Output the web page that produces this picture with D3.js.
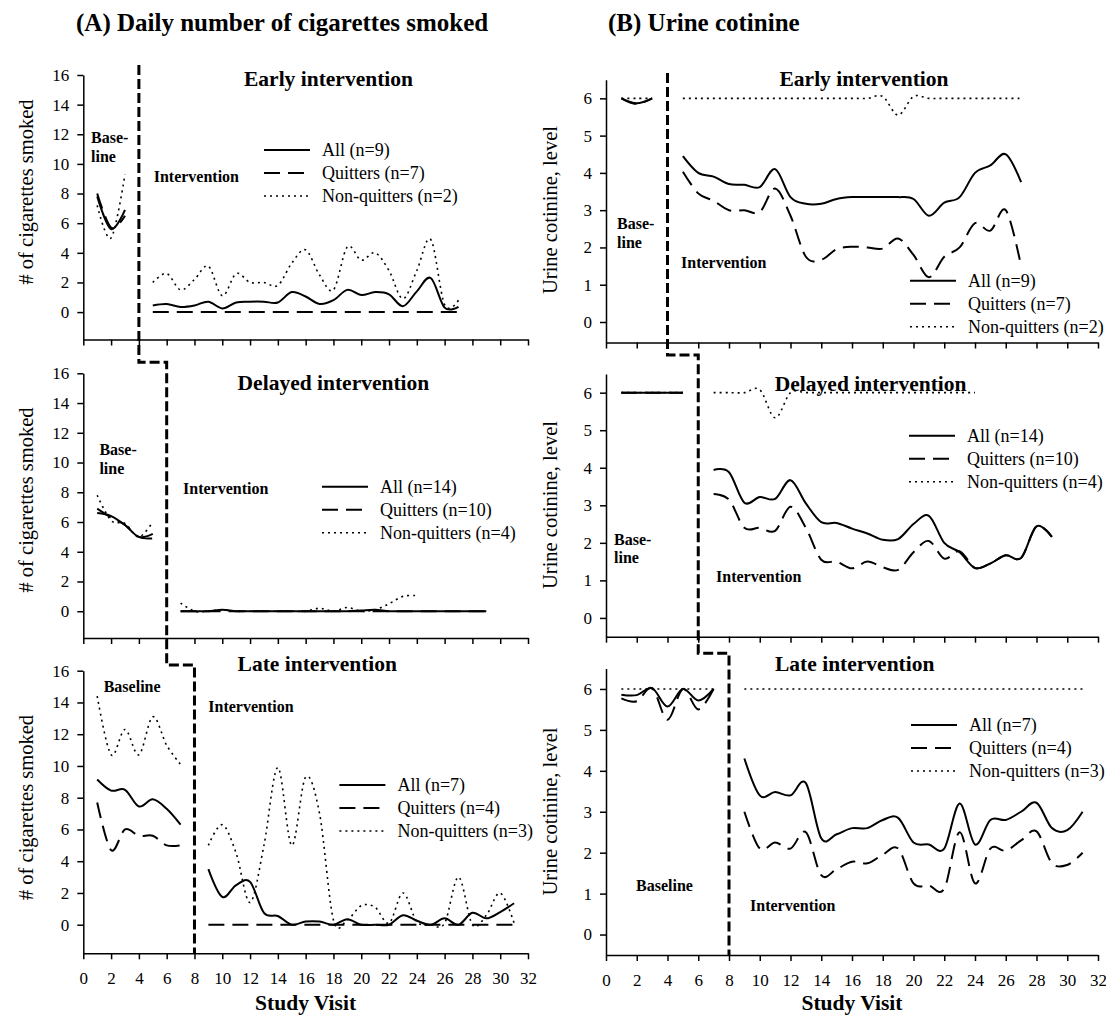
<!DOCTYPE html>
<html>
<head>
<meta charset="utf-8">
<script src="https://cdn.jsdelivr.net/npm/d3@7"></script>
<style>
  body { margin: 0; background: #fff; }
  svg text { font-family: "Liberation Serif", "Times New Roman", Times, "DejaVu Serif", serif; fill: #000; }
  .axis path, .axis line { stroke: #000; stroke-width: 1.5; }
  .axis text { font-size: 17px; }
  .note { font-weight: bold; }
  .legend text { font-size: 18px; }
</style>
</head>
<body>
<svg id="chart" width="1106" height="1025"></svg>
<script>
// study visits (x categories)
const earlyBaseVisits = [1, 2, 3];
const earlyIntVisits = d3.range(5, 28);
const delayedBaseVisits = [1, 2, 3, 4, 5];
const delayedIntVisits = d3.range(7, 30);
const lateBaseVisits = [1, 2, 3, 4, 5, 6, 7];
const lateIntVisits = d3.range(9, 32);

const xTicks = d3.range(0, 33, 2);
const cigTicks = [0, 2, 4, 6, 8, 10, 12, 14, 16];
const cotTicks = [0, 1, 2, 3, 4, 5, 6];

// (A) daily cigarettes
const cigEarlyAllBase = [7.8, 5.6, 6.9];
const cigEarlyQuitBase = [8.0, 5.7, 6.5];
const cigEarlyNonBase = [7.2, 5.0, 9.3];
const cigEarlyAllInt = [0.45, 0.55, 0.35, 0.45, 0.7, 0.25, 0.65, 0.7, 0.7, 0.65, 1.35, 1.05, 0.55, 0.8, 1.5, 1.15, 1.35, 1.2, 0.4, 1.4, 2.3, 0.3, 0.35];
const cigEarlyQuitInt = [0, 0, 0, 0, 0, 0, 0, 0, 0, 0, 0, 0, 0, 0, 0, 0, 0, 0, 0, 0, 0, 0, 0];
const cigEarlyNonInt = [2.0, 2.6, 1.5, 2.2, 3.1, 1.1, 2.6, 2.0, 2.0, 1.8, 3.3, 4.2, 2.5, 1.5, 4.4, 3.5, 4.0, 2.8, 0.9, 2.8, 4.9, 0.5, 0.8];

const cigDelayedAllBase = [6.6, 6.4, 5.8, 5.0, 5.2];
const cigDelayedQuitBase = [6.9, 6.3, 5.8, 5.0, 4.9];
const cigDelayedNonBase = [7.8, 6.1, 5.9, 5.0, 6.0];
const cigDelayedAllInt = [0, 0, 0, 0.1, 0, 0, 0, 0, 0, 0, 0, 0, 0, 0.05, 0.1, 0, 0, 0, 0, 0, 0, 0, 0];
const cigDelayedQuitInt = [0, 0, 0, 0, 0, 0, 0, 0, 0, 0, 0, 0, 0, 0, 0, 0, 0, 0, 0, 0, 0, 0, 0];
const cigDelayedNonInt = [0.55, 0, 0, 0.1, 0, 0, 0, 0, 0, 0, 0.2, 0, 0.25, 0, 0.1, 0.5, 1.0, 1.05];

const cigLateAllBase = [9.15, 8.45, 8.5, 7.45, 7.9, 7.3, 6.3];
const cigLateQuitBase = [7.7, 4.7, 6.0, 5.6, 5.6, 5.0, 5.0];
const cigLateNonBase = [14.4, 10.7, 12.3, 10.7, 13.1, 11.3, 10.1];
const cigLateAllInt = [3.5, 1.75, 2.5, 2.7, 0.75, 0.55, 0, 0.2, 0.2, 0, 0.35, 0, 0, 0, 0.6, 0.25, 0, 0.4, 0, 0.75, 0.4, 0.8, 1.35];
const cigLateQuitInt = [0, 0, 0, 0, 0, 0, 0, 0, 0, 0, 0, 0, 0, 0, 0, 0, 0, 0, 0, 0, 0, 0, 0];
const cigLateNonInt = [5.0, 6.3, 4.5, 1.4, 5.0, 9.9, 5.0, 9.3, 7.0, 0.3, 0.3, 1.2, 1.1, 0.1, 2.0, 0.2, 0, 0.1, 3.0, 0, 0.6, 2.0, 0.1];

// (B) urine cotinine level
const cotEarlyAllBase = [6.0, 5.87, 6.0];
const cotEarlyQuitBase = [6.0, 5.85, 6.0];
const cotEarlyNonBase = [6.0, 6.0, 6.0];
const cotEarlyAllInt = [4.45, 4.0, 3.9, 3.7, 3.68, 3.62, 4.1, 3.35, 3.17, 3.17, 3.3, 3.35, 3.35, 3.35, 3.35, 3.3, 2.85, 3.2, 3.35, 4.0, 4.2, 4.5, 3.75];
const cotEarlyQuitInt = [4.03, 3.45, 3.25, 3.0, 3.0, 2.95, 3.58, 2.85, 1.75, 1.67, 1.95, 2.02, 2.0, 1.97, 2.24, 1.8, 1.2, 1.75, 2.0, 2.65, 2.45, 3.0, 1.5];
const cotEarlyNonInt = [6, 6, 6, 6, 6, 6, 6, 6, 6, 6, 6, 6, 6, 6.05, 5.55, 6.05, 6, 6, 6, 6, 6, 6, 6];

const cotDelayedAllBase = [6, 6, 6, 6, 6];
const cotDelayedQuitBase = [6, 6, 6, 6, 6];
const cotDelayedNonBase = [6, 6, 6, 6, 6];
const cotDelayedAllInt = [3.94, 3.88, 3.07, 3.22, 3.17, 3.67, 3.05, 2.55, 2.53, 2.38, 2.25, 2.08, 2.1, 2.5, 2.72, 2.0, 1.75, 1.33, 1.45, 1.67, 1.6, 2.44, 2.16];
const cotDelayedQuitInt = [3.3, 3.15, 2.4, 2.4, 2.32, 2.96, 2.4, 1.55, 1.5, 1.32, 1.5, 1.35, 1.28, 1.75, 2.05, 1.58, 1.78, 1.33, 1.45, 1.67, 1.6, 2.44, 2.16];
const cotDelayedNonInt = [6, 6, 6, 6.08, 5.33, 6, 6, 6, 6, 6, 6, 6, 6, 6, 6, 6, 6, 6];

const cotLateAllBase = [5.86, 5.85, 6.02, 5.57, 6.0, 5.72, 6.0];
const cotLateQuitBase = [5.77, 5.7, 6.02, 5.25, 6.0, 5.5, 6.0];
const cotLateNonBase = [6, 6, 6, 6, 6, 6, 6];
const cotLateAllInt = [4.3, 3.4, 3.48, 3.4, 3.7, 2.35, 2.45, 2.6, 2.6, 2.8, 2.85, 2.25, 2.2, 2.1, 3.2, 2.2, 2.8, 2.8, 3.0, 3.22, 2.6, 2.55, 3.0];
const cotLateQuitInt = [3.0, 2.1, 2.25, 2.1, 2.5, 1.45, 1.6, 1.78, 1.74, 1.95, 2.1, 1.25, 1.2, 1.12, 2.5, 1.25, 2.1, 2.05, 2.3, 2.52, 1.75, 1.7, 2.0];
const cotLateNonInt = [6, 6, 6, 6, 6, 6, 6, 6, 6, 6, 6, 6, 6, 6, 6, 6, 6, 6, 6, 6, 6, 6, 6];

const legendEarly = ['All (n=9)', 'Quitters (n=7)', 'Non-quitters (n=2)'];
const legendDelayed = ['All (n=14)', 'Quitters (n=10)', 'Non-quitters (n=4)'];
const legendLate = ['All (n=7)', 'Quitters (n=4)', 'Non-quitters (n=3)'];

const serif = '"Liberation Serif", "Times New Roman", Times, "DejaVu Serif", serif';
const svg = d3.select('#chart').attr('font-family', serif);

const styles = {
  all: {w: 2, dash: null},
  quit: {w: 2, dash: '16,8'},
  non: {w: 1.6, dash: '2,4'}
};

const cols = {
  A: {x0: 83.3, x1: 528, ticks: cigTicks, label: '# of cigarettes smoked', labelX: 33},
  B: {x0: 606, x1: 1098, ticks: cotTicks, label: 'Urine cotinine, level', labelX: 557}
};

function series(visits, values) {
  return values.map((v, i) => [visits[i], v]);
}

const panels = [
  {col: 'A', row: 0, top: 75, bottom: 339.5, dom: [-1.85, 16], labelY: 192,
   title: ['Early intervention', 244, 86],
   notes: [['Base-', 91, 143], ['line', 91, 162], ['Intervention', 153.7, 182]],
   legend: {x: 264, y: 150, names: legendEarly},
   lines: [
     ['non', earlyBaseVisits, cigEarlyNonBase], ['quit', earlyBaseVisits, cigEarlyQuitBase], ['all', earlyBaseVisits, cigEarlyAllBase],
     ['non', earlyIntVisits, cigEarlyNonInt], ['quit', earlyIntVisits, cigEarlyQuitInt], ['all', earlyIntVisits, cigEarlyAllInt]]},
  {col: 'A', row: 1, top: 373.3, bottom: 638, dom: [-1.8, 16], labelY: 500,
   title: ['Delayed intervention', 237.6, 390],
   notes: [['Base-', 99.4, 455], ['line', 99.4, 474], ['Intervention', 183, 494]],
   legend: {x: 322, y: 486.7, names: legendDelayed},
   lines: [
     ['non', delayedBaseVisits, cigDelayedNonBase], ['quit', delayedBaseVisits, cigDelayedQuitBase], ['all', delayedBaseVisits, cigDelayedAllBase],
     ['non', delayedIntVisits, cigDelayedNonInt], ['quit', delayedIntVisits, cigDelayedQuitInt], ['all', delayedIntVisits, cigDelayedAllInt]]},
  {col: 'A', row: 2, top: 670.7, bottom: 953.3, dom: [-1.8, 16], labelY: 807.5,
   title: ['Late intervention', 237.6, 671],
   notes: [['Baseline', 103.7, 692], ['Intervention', 208.3, 712]],
   legend: {x: 339.4, y: 785, names: legendLate},
   lines: [
     ['non', lateBaseVisits, cigLateNonBase], ['quit', lateBaseVisits, cigLateQuitBase], ['all', lateBaseVisits, cigLateAllBase],
     ['non', lateIntVisits, cigLateNonInt], ['quit', lateIntVisits, cigLateQuitInt], ['all', lateIntVisits, cigLateAllInt]]},
  {col: 'B', row: 0, top: 79.7, bottom: 342.5, dom: [-0.55, 6.5], labelY: 210,
   title: ['Early intervention', 779.5, 86],
   notes: [['Base-', 617, 229], ['line', 617, 248], ['Intervention', 681, 268]],
   legend: {x: 910, y: 280.7, names: legendEarly},
   lines: [
     ['non', earlyBaseVisits, cotEarlyNonBase], ['quit', earlyBaseVisits, cotEarlyQuitBase], ['all', earlyBaseVisits, cotEarlyAllBase],
     ['non', earlyIntVisits, cotEarlyNonInt], ['quit', earlyIntVisits, cotEarlyQuitInt], ['all', earlyIntVisits, cotEarlyAllInt]]},
  {col: 'B', row: 1, top: 373.9, bottom: 636.7, dom: [-0.5, 6.5], labelY: 505,
   title: ['Delayed intervention', 774.8, 391],
   notes: [['Base-', 614, 545], ['line', 614, 563], ['Intervention', 716, 582]],
   legend: {x: 909, y: 435.7, names: legendDelayed},
   lines: [
     ['non', delayedBaseVisits, cotDelayedNonBase], ['quit', delayedBaseVisits, cotDelayedQuitBase], ['all', delayedBaseVisits, cotDelayedAllBase],
     ['non', delayedIntVisits, cotDelayedNonInt], ['quit', delayedIntVisits, cotDelayedQuitInt], ['all', delayedIntVisits, cotDelayedAllInt]]},
  {col: 'B', row: 2, top: 668.5, bottom: 955, dom: [-0.5, 6.5], labelY: 811.5,
   title: ['Late intervention', 775, 671],
   notes: [['Baseline', 636, 891], ['Intervention', 750, 911]],
   legend: {x: 911, y: 725, names: legendLate},
   lines: [
     ['non', lateBaseVisits, cotLateNonBase], ['quit', lateBaseVisits, cotLateQuitBase], ['all', lateBaseVisits, cotLateAllBase],
     ['non', lateIntVisits, cotLateNonInt], ['quit', lateIntVisits, cotLateQuitInt], ['all', lateIntVisits, cotLateAllInt]]}
];

panels.forEach(p => {
  const c = cols[p.col];
  const x = d3.scaleLinear().domain([0, 32]).range([c.x0, c.x1]);
  const y = d3.scaleLinear().domain(p.dom).range([p.bottom, p.top]);
  p.x = x;

  const aX = d3.axisBottom(x).tickValues(xTicks).tickSize(6).tickSizeOuter(0).tickPadding(13)
    .tickFormat(d3.format('d'));
  if (p.row < 2) aX.tickFormat('');
  svg.append('g')
    .attr('class', 'axis axis--x')
    .attr('transform', `translate(0, ${p.bottom})`)
    .call(aX)
    .attr('font-family', serif).attr('font-size', 17);

  svg.append('g')
    .attr('class', 'axis axis--y')
    .attr('transform', `translate(${c.x0}, 0)`)
    .call(d3.axisLeft(y).tickValues(c.ticks).tickSize(6).tickSizeOuter(0).tickPadding(8)
      .tickFormat(d3.format('d')))
    .attr('font-family', serif).attr('font-size', 17);

  svg.append('text')
    .attr('transform', `translate(${c.labelX}, ${p.labelY}) rotate(-90)`)
    .attr('text-anchor', 'middle')
    .attr('font-family', serif)
    .style('font-size', '20.5px')
    .text(c.label);

  let line = d3.line().x(d => x(d[0])).y(d => y(d[1])).curve(d3.curveCardinal.tension(0));
  p.lines.forEach(([kind, visits, values]) => {
    svg.append('path')
      .datum(series(visits, values))
      .attr('fill', 'none')
      .attr('stroke', '#000')
      .attr('stroke-width', styles[kind].w)
      .attr('stroke-dasharray', styles[kind].dash)
      .attr('d', line);
  });

  svg.append('text').attr('class', 'note')
    .attr('x', p.title[1]).attr('y', p.title[2])
    .attr('font-family', serif)
    .style('font-size', '21.5px')
    .text(p.title[0]);

  p.notes.forEach(n => {
    svg.append('text').attr('class', 'note')
      .attr('x', n[1]).attr('y', n[2])
      .attr('font-family', serif)
      .style('font-size', '16px')
      .text(n[0]);
  });

  // legend
  const lg = svg.append('g').attr('class', 'legend');
  ['all', 'quit', 'non'].forEach((k, i) => {
    const ly = p.legend.y + i * 23;
    lg.append('line')
      .attr('x1', p.legend.x).attr('x2', p.legend.x + 46)
      .attr('y1', ly).attr('y2', ly)
      .attr('stroke', '#000')
      .attr('stroke-width', styles[k].w)
      .attr('stroke-dasharray', styles[k].dash);
    lg.append('text')
      .attr('x', p.legend.x + 58).attr('y', ly).attr('dy', '0.35em')
      .attr('font-family', serif)
      .text(p.legend.names[i]);
  });
});

// phase separators (baseline -> intervention), stepping across the three panels
function phasePath(col, yStart, yStep1, yStep2, yEnd) {
  const x = panels.find(p => p.col === col).x;
  return d3.line()([
    [x(4), yStart], [x(4), yStep1], [x(6), yStep1],
    [x(6), yStep2], [x(8), yStep2], [x(8), yEnd]
  ]);
}
svg.append('path')
  .attr('d', phasePath('A', 65, 362.3, 665, 953.3))
  .attr('fill', 'none').attr('stroke', '#000')
  .attr('stroke-width', 3).attr('stroke-dasharray', '10,4');
svg.append('path')
  .attr('d', phasePath('B', 73, 355, 653.3, 955))
  .attr('fill', 'none').attr('stroke', '#000')
  .attr('stroke-width', 3).attr('stroke-dasharray', '10,4');

// column titles and x labels
svg.append('text').attr('class', 'note')
  .attr('x', 76).attr('y', 31).attr('font-family', serif).style('font-size', '25px')
  .text('(A) Daily number of cigarettes smoked');
svg.append('text').attr('class', 'note')
  .attr('x', 608).attr('y', 31).attr('font-family', serif).style('font-size', '25px')
  .text('(B) Urine cotinine');

[['A', 305.6], ['B', 852]].forEach(([k, cx]) => {
  svg.append('text').attr('class', 'note')
    .attr('x', cx).attr('y', 1010)
    .attr('text-anchor', 'middle')
    .attr('font-family', serif)
    .style('font-size', '21.5px')
    .text('Study Visit');
});
</script>
</body>
</html>
